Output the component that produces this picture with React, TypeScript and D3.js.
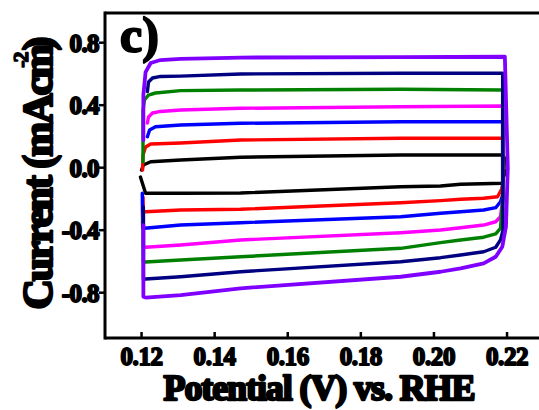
import React from "react";
import * as d3 from "d3";

const W = 539;
const H = 410;

const xTicks = [0.12, 0.14, 0.16, 0.18, 0.2, 0.22];
const xTickLabels = ["0.12", "0.14", "0.16", "0.18", "0.20", "0.22"];
const yTicks = [-0.8, -0.4, 0.0, 0.4, 0.8];
const yTickLabels = ["-0.8", "-0.4", "0.0", "0.4", "0.8"];

// Cyclic voltammograms: [potential (V vs. RHE), current density (mA cm^-2)]
const loopBlack: [number, number][] = [
  [0.12, -0.015], [0.1205, 0.017], [0.1225, 0.038], [0.1307, 0.049], [0.1471, 0.067],
  [0.1909, 0.081], [0.2188, 0.081], [0.2199, 0.04], [0.22, -0.01], [0.219, -0.06],
  [0.2188, -0.1], [0.2073, -0.106], [0.2018, -0.117], [0.1909, -0.122], [0.1471, -0.162],
  [0.1307, -0.164], [0.1211, -0.164], [0.1197, -0.06],
];
const loopRed: [number, number][] = [
  [0.1203, -0.015], [0.1204, 0.081], [0.1211, 0.132], [0.1225, 0.152], [0.1307, 0.158],
  [0.1471, 0.177], [0.1909, 0.188], [0.2188, 0.188], [0.2188, -0.111], [0.2185, -0.138],
  [0.2174, -0.186], [0.2136, -0.196], [0.2073, -0.202], [0.2018, -0.211], [0.1909, -0.224],
  [0.1471, -0.266], [0.1307, -0.271], [0.1211, -0.282], [0.1205, -0.28], [0.1204, -0.188],
];
const loopBlue: [number, number][] = [
  [0.1216, 0.198], [0.1222, 0.241], [0.1238, 0.262], [0.1307, 0.273], [0.1471, 0.284],
  [0.1909, 0.294], [0.2188, 0.294], [0.2188, -0.175], [0.2182, -0.218], [0.2169, -0.256],
  [0.2136, -0.271], [0.2073, -0.282], [0.2018, -0.292], [0.1909, -0.314], [0.1471, -0.352],
  [0.1307, -0.367], [0.1208, -0.388], [0.1203, -0.386], [0.1202, -0.164],
];
const loopMagenta: [number, number][] = [
  [0.1216, 0.286], [0.1219, 0.324], [0.123, 0.35], [0.1252, 0.36], [0.1307, 0.369],
  [0.1471, 0.38], [0.1909, 0.39], [0.2188, 0.395], [0.2188, -0.207], [0.2182, -0.314],
  [0.2169, -0.346], [0.2136, -0.367], [0.2073, -0.384], [0.2018, -0.399], [0.1909, -0.416],
  [0.1471, -0.463], [0.1307, -0.495], [0.1211, -0.509], [0.1205, -0.508], [0.1205, -0.284],
];
const loopGreen: [number, number][] = [
  [0.1204, 0.038], [0.1204, 0.369], [0.1208, 0.433], [0.1219, 0.465], [0.1238, 0.478],
  [0.1307, 0.493], [0.1471, 0.497], [0.1909, 0.502], [0.2188, 0.497], [0.2188, -0.207],
  [0.2182, -0.388], [0.2169, -0.424], [0.2136, -0.445], [0.2073, -0.463], [0.2018, -0.48],
  [0.1909, -0.516], [0.1471, -0.57], [0.1307, -0.591], [0.1211, -0.604], [0.1205, -0.604],
  [0.1205, -0.303],
];
const loopNavy: [number, number][] = [
  [0.1216, 0.487], [0.1219, 0.548], [0.123, 0.574], [0.1252, 0.584], [0.1307, 0.586],
  [0.1471, 0.6], [0.1909, 0.604], [0.2188, 0.604], [0.2189, -0.4], [0.2182, -0.462],
  [0.2169, -0.509], [0.2136, -0.538], [0.2073, -0.559], [0.2018, -0.576], [0.1909, -0.602],
  [0.1471, -0.666], [0.1307, -0.698], [0.1211, -0.712], [0.1205, -0.712], [0.1205, -0.252],
];
const loopPurple: [number, number][] = [
  [0.1205, 0.177], [0.1205, 0.465], [0.1211, 0.612], [0.1225, 0.67], [0.1252, 0.689],
  [0.1307, 0.696], [0.1471, 0.705], [0.1909, 0.707], [0.2194, 0.71], [0.2202, 0.0],
  [0.2197, -0.378], [0.2187, -0.506], [0.2169, -0.57], [0.2136, -0.612], [0.2073, -0.644],
  [0.2018, -0.666], [0.1909, -0.698], [0.1471, -0.772], [0.1307, -0.815], [0.1211, -0.831],
  [0.1205, -0.826], [0.1205, -0.367],
];

const loops = [
  { points: loopBlack, color: "#000000", width: 3.4 },
  { points: loopRed, color: "#ff0000", width: 3.4 },
  { points: loopBlue, color: "#0000ff", width: 3.4 },
  { points: loopMagenta, color: "#ff00ff", width: 3.4 },
  { points: loopGreen, color: "#008000", width: 3.4 },
  { points: loopNavy, color: "#000080", width: 3.4 },
  { points: loopPurple, color: "#7f00ff", width: 3.8 },
];

const FONT = "'Liberation Serif', 'Times New Roman', serif";

export default function App() {
  const left = 105;
  const top = 13;
  const bottom = 338;

  const x = d3.scaleLinear().domain([0.11, 0.23]).range([left, left + 0.12 * 3655]);
  const y = d3.scaleLinear().domain([-1.09, 0.99]).range([bottom, top]);

  const line = d3
    .line<[number, number]>()
    .x((d) => x(d[0]))
    .y((d) => y(d[1]))
    .curve(d3.curveLinear);

  return (
    <svg
      width={W}
      height={H}
      viewBox={`0 0 ${W} ${H}`}
      style={{ position: "absolute", left: 0, top: 0, background: "#fff" }}
    >
      <rect x={0} y={0} width={W} height={H} fill="#fff" />

      {loops.map((l, i) => (
        <path
          key={i}
          d={line(l.points) || ""}
          fill="none"
          stroke={l.color}
          strokeWidth={l.width}
          strokeLinejoin="round"
          strokeLinecap="round"
        />
      ))}

      {/* frame */}
      <line x1={left} x2={W} y1={top} y2={top} stroke="#000" strokeWidth={3} />
      <line x1={left} x2={W} y1={bottom} y2={bottom} stroke="#000" strokeWidth={3} />
      <line x1={left} x2={left} y1={top - 1.5} y2={bottom + 1.5} stroke="#000" strokeWidth={3} />

      {/* x axis ticks */}
      {xTicks.map((t, i) => (
        <g key={i}>
          <line x1={x(t)} x2={x(t)} y1={bottom} y2={bottom - 6} stroke="#000" strokeWidth={2.5} />
          <text
            x={x(t)}
            y={365}
            textAnchor="middle"
            fontFamily={FONT}
            fontWeight="bold"
            fontSize={25}
            stroke="#000"
            strokeWidth={1.8}
            strokeLinejoin="round"
            letterSpacing={-0.4}
          >
            {xTickLabels[i]}
          </text>
        </g>
      ))}

      {/* y axis ticks */}
      {yTicks.map((t, i) => (
        <g key={i}>
          <line x1={left} x2={left - 6} y1={y(t)} y2={y(t)} stroke="#000" strokeWidth={2.5} />
          <text
            x={99}
            y={y(t) + 9}
            textAnchor="end"
            fontFamily={FONT}
            fontWeight="bold"
            fontSize={25}
            stroke="#000"
            strokeWidth={1.8}
            strokeLinejoin="round"
            letterSpacing={-0.6}
          >
            {yTickLabels[i]}
          </text>
        </g>
      ))}

      {/* axis titles */}
      <text
        x={319}
        y={400}
        textAnchor="middle"
        fontFamily={FONT}
        fontWeight="bold"
        fontSize={36}
        stroke="#000"
        strokeWidth={2.4}
        strokeLinejoin="round"
        letterSpacing={-1.1}
      >
        Potential (V) vs. RHE
      </text>

      <text
        transform="translate(52,174) rotate(-90)"
        textAnchor="middle"
        fontFamily={FONT}
        fontWeight="bold"
        fontSize={42}
        stroke="#000"
        strokeWidth={2.4}
        strokeLinejoin="round"
        letterSpacing={-2}
      >
        Current (mAcm
        <tspan dx={-22} dy={-24} fontSize={22} strokeWidth={1.4}>
          -2
        </tspan>
        <tspan dx={3} dy={24}>
          )
        </tspan>
      </text>

      {/* panel label */}
      <text
        x={120}
        y={52}
        fontFamily={FONT}
        fontWeight="bold"
        fontSize={50}
        stroke="#000"
        strokeWidth={2}
        strokeLinejoin="round"
      >
        c)
      </text>
    </svg>
  );
}
